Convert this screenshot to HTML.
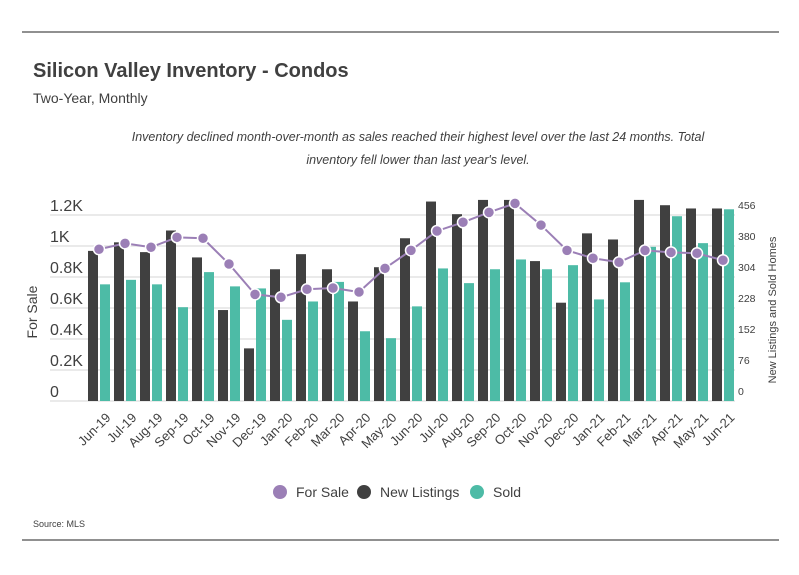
<!DOCTYPE html>
<html><head><meta charset="utf-8">
<style>
body{margin:0;background:#fff;font-family:"Liberation Sans",sans-serif;}
svg{display:block}
</style></head>
<body>
<svg id="c" width="799" height="575" xmlns="http://www.w3.org/2000/svg">
<line x1="22" y1="32" x2="779" y2="32" stroke="#222" stroke-width="1"/>
<line x1="22" y1="540" x2="779" y2="540" stroke="#222" stroke-width="1"/>
<text x="33" y="77" font-size="20" font-weight="bold" fill="#404040">Silicon Valley Inventory - Condos</text>
<text x="33" y="103" font-size="14" fill="#404040">Two-Year, Monthly</text>
<text x="418" y="141" font-size="12.5" font-style="italic" fill="#404040" text-anchor="middle">Inventory declined month-over-month as sales reached their highest level over the last 24 months. Total</text>
<text x="418" y="164" font-size="12.5" font-style="italic" fill="#404040" text-anchor="middle">inventory fell lower than last year's level.</text>
<text transform="translate(37,312) rotate(-90)" font-size="14" fill="#404040" text-anchor="middle">For Sale</text>
<text transform="translate(776,310) rotate(-90)" font-size="11" fill="#404040" text-anchor="middle">New Listings and Sold Homes</text>
<g id="grid"></g><g id="bars"></g><g id="line"></g><g id="labels"></g>
<g>
<g><circle cx="280" cy="492" r="7" fill="#9b7fb6"/><text x="296" y="497" font-size="14" fill="#404040">For Sale</text></g>
<g><circle cx="364" cy="492" r="7" fill="#404040"/><text x="380" y="497" font-size="14" fill="#404040">New Listings</text></g>
<g><circle cx="477" cy="492" r="7" fill="#4dbba6"/><text x="493" y="497" font-size="14" fill="#404040">Sold</text></g>
</g>
<text x="33" y="527" font-size="9" fill="#404040">Source:  MLS</text>
</svg>
<script>
const categories=["Jun-19","Jul-19","Aug-19","Sep-19","Oct-19","Nov-19","Dec-19","Jan-20","Feb-20","Mar-20","Apr-20","May-20","Jun-20","Jul-20","Aug-20","Sep-20","Oct-20","Nov-20","Dec-20","Jan-21","Feb-21","Mar-21","Apr-21","May-21","Jun-21"];
const newListings=[368,389,365,418,352,223,129,323,360,323,244,328,399,489,458,493,493,343,241,411,396,493,480,472,472];
const sold=[286,297,286,230,316,281,276,199,244,292,171,154,232,325,289,323,347,323,333,249,291,378,453,387,470];
const forSale=[979,1017,992,1056,1050,884,688,669,721,729,703,856,972,1097,1153,1217,1275,1135,972,921,895,972,959,953,908];
const leftTicks=["0","0.2K","0.4K","0.6K","0.8K","1K","1.2K"];
const leftTickValues=[0,200,400,600,800,1000,1200];
const rightTicks=[0,76,152,228,304,380,456];
const NS="http://www.w3.org/2000/svg";
const y0=401,yTop=215;
const yL=v=>y0-(v/1200)*(y0-yTop);
const yR=v=>y0-(v/456)*(y0-yTop);
const xC=i=>99+i*26;
function mk(tag,attrs,parent){const e=document.createElementNS(NS,tag);for(const k in attrs)e.setAttribute(k,attrs[k]);parent.appendChild(e);return e;}
const grid=document.getElementById('grid'),bars=document.getElementById('bars'),line=document.getElementById('line'),labels=document.getElementById('labels');
leftTickValues.forEach((v,i)=>{
  const l=mk('line',{x1:50,x2:735,y1:yL(v),y2:yL(v),stroke:'#e3e3e3','stroke-width':1.5},grid);
  
  
  const t=mk('text',{x:50,y:yL(v)-4,'font-size':16,fill:'#404040'},labels);t.textContent=leftTicks[i];
  
  
});
rightTicks.forEach(v=>{
  const t=mk('text',{x:738,y:yR(v)-6,'font-size':10.5,fill:'#404040'},labels);t.textContent=v;
  
  
});
categories.forEach((c,i)=>{
  const x=xC(i);
  const b=mk('rect',{x:x-11,y:yR(newListings[i]),width:10,height:y0-yR(newListings[i]),fill:'#404040'},bars);
  
  
  const s=mk('rect',{x:x+1,y:yR(sold[i]),width:10,height:y0-yR(sold[i]),fill:'#4dbba6'},bars);
  
  
  const t=mk('text',{transform:`translate(${x+6},${412}) rotate(-45)`,'text-anchor':'end','font-size':13,fill:'#404040',y:9},labels);t.textContent=c;
  
  
});
const p=mk('polyline',{points:forSale.map((v,i)=>xC(i)+','+yL(v)).join(' '),fill:'none',stroke:'#9b7fb6','stroke-width':2},line);


forSale.forEach((v,i)=>{
  const d=mk('circle',{cx:xC(i),cy:yL(v),r:5.5,fill:'#9b7fb6',stroke:'#fff','stroke-width':1.5},line);
  
  
});
</script>
</body></html>
